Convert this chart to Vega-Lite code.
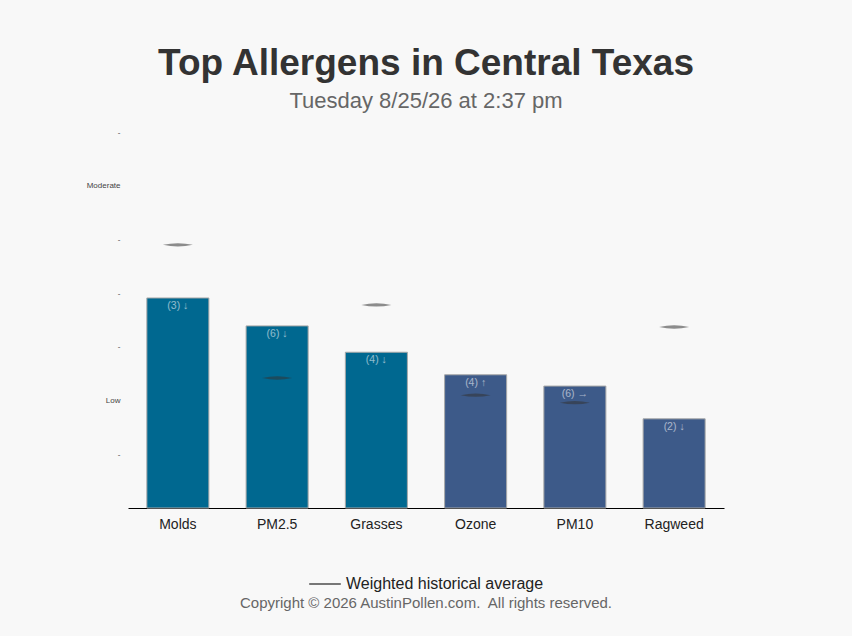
{
  "$schema": "https://vega.github.io/schema/vega-lite/v6.json",
  "description": "Top Allergens in Central Texas",
  "autosize": {"type": "none"},
  "width": 596,
  "height": 376,
  "padding": {"left": 128, "top": 132, "right": 128, "bottom": 128},
  "background": "#f8f8f8",
  "config": {
    "font": "Liberation Sans",
    "view": {"stroke": null},
    "legend": {"layout": {"bottom": {"anchor": "middle"}}}
  },
  "title": {
    "text": "Top Allergens in Central Texas",
    "subtitle": "Tuesday 8/25/26 at 2:37 pm",
    "anchor": "middle",
    "fontSize": 37,
    "fontWeight": "bold",
    "color": "#333333",
    "subtitleFontSize": 22,
    "subtitleColor": "#666666",
    "subtitlePadding": 8,
    "offset": 15
  },
  "data": {
    "values": [
      {"allergen": "Molds", "level": 3.91, "average": 4.9, "label": "(3) ↓"},
      {"allergen": "PM2.5", "level": 3.39, "average": 2.42, "label": "(6) ↓"},
      {"allergen": "Grasses", "level": 2.9, "average": 3.78, "label": "(4) ↓"},
      {"allergen": "Ozone", "level": 2.48, "average": 2.1, "label": "(4) ↑"},
      {"allergen": "PM10", "level": 2.27, "average": 1.96, "label": "(6) →"},
      {"allergen": "Ragweed", "level": 1.66, "average": 3.37, "label": "(2) ↓"}
    ]
  },
  "encoding": {
    "x": {
      "field": "allergen",
      "type": "nominal",
      "sort": null,
      "scale": {"paddingInner": 0.375, "paddingOuter": 0.19},
      "axis": {
        "title": null,
        "labelAngle": 0,
        "labelFontSize": 14,
        "labelColor": "#222222",
        "labelPadding": 9,
        "ticks": false,
        "domainColor": "#000000",
        "domainWidth": 1
      }
    }
  },
  "layer": [
    {
      "mark": {"type": "bar", "stroke": "#a8a8a8", "strokeWidth": 1},
      "encoding": {
        "y": {
          "field": "level",
          "type": "quantitative",
          "scale": {"domain": [0, 7], "nice": false},
          "axis": {
            "title": null,
            "values": [1, 2, 3, 4, 5, 6, 7],
            "labelExpr": "datum.value == 2 ? 'Low' : datum.value == 6 ? 'Moderate' : '-'",
            "labelFontSize": 8,
            "labelColor": "#444444",
            "labelPadding": 8,
            "ticks": false,
            "domain": false,
            "grid": false
          }
        },
        "fill": {
          "condition": {"test": "indexof(['Molds','PM2.5','Grasses'], datum.allergen) >= 0", "value": "#006890"},
          "value": "#3d5a89"
        }
      }
    },
    {
      "mark": {"type": "text", "baseline": "top", "dy": 3, "fontSize": 10.5, "color": "#ffffff", "opacity": 0.55},
      "encoding": {
        "y": {"field": "level", "type": "quantitative"},
        "text": {"field": "label"}
      }
    },
    {
      "mark": {
        "type": "point",
        "shape": "M -1 0 Q 0 -0.22 1 0 Q 0 0.22 -1 0 Z",
        "size": 900,
        "filled": true,
        "opacity": 0.55
      },
      "encoding": {
        "y": {"field": "average", "type": "quantitative"},
        "color": {
          "datum": "Weighted historical average",
          "scale": {"range": ["#333333"]},
          "legend": {
            "orient": "bottom",
            "direction": "horizontal",
            "title": "Copyright © 2026 AustinPollen.com.\u00a0 All rights reserved.",
            "titleOrient": "bottom",
            "titleAnchor": "middle",
            "titleFontSize": 15,
            "titleFontWeight": "normal",
            "titleColor": "#666666",
            "titlePadding": 4,
            "titleLimit": 600,
            "labelFontSize": 16,
            "labelColor": "#222222",
            "labelLimit": 400,
            "symbolType": "stroke",
            "symbolSize": 1000,
            "symbolStrokeWidth": 2,
            "symbolStrokeColor": "#777777",
            "symbolOpacity": 1,
            "offset": 36
          }
        }
      }
    }
  ]
}
